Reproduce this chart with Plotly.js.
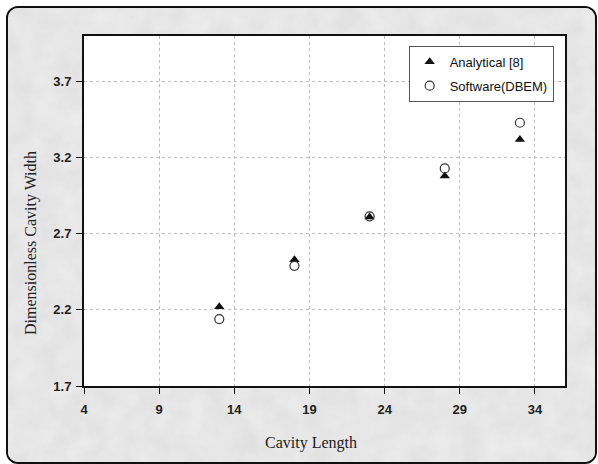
<!DOCTYPE html>
<html>
<head>
<meta charset="utf-8">
<script src="https://cdn.plot.ly/plotly-3.0.1.min.js"></script>
<style>
  html, body { margin: 0; padding: 0; background: #ffffff; }
  #wrap { position: relative; width: 598px; height: 464px; overflow: hidden; }
  #frame {
    position: absolute; left: 6px; top: 6px; width: 587px; height: 454px;
    border: 2px solid #111; border-radius: 12px;
    background-color: #e4e4e4; overflow: hidden;
  }
  #frame svg { position: absolute; left: 0; top: 0; }
  #chart { position: absolute; left: 0; top: 0; width: 598px; height: 464px; }
</style>
</head>
<body>
<div id="wrap">
  <div id="frame">
    <svg width="587" height="454">
      <filter id="marble">
        <feTurbulence type="fractalNoise" baseFrequency="0.04" numOctaves="4" seed="7"/>
        <feColorMatrix type="matrix" values="0 0 0 0 0.95  0 0 0 0 0.95  0 0 0 0 0.95  0 0 0 -0.6 0.55"/>
      </filter>
      <rect width="587" height="454" fill="#e0e0e0"/>
      <rect width="587" height="454" filter="url(#marble)"/>
    </svg>
  </div>
  <div id="chart"></div>
</div>
<script>
// Cavity length vs. dimensionless cavity width
const cavityLength = [13, 18, 23, 28, 33];
const analyticalWidth = [2.22, 2.53, 2.81, 3.08, 3.32];
const dbemWidth = [2.14, 2.49, 2.815, 3.13, 3.43];
const xTicks = [4, 9, 14, 19, 24, 29, 34];
const yTicks = [1.7, 2.2, 2.7, 3.2, 3.7];
const xTitle = 'Cavity Length';
const yTitle = 'Dimensionless Cavity Width';

const traces = [
  {
    x: cavityLength, y: analyticalWidth, type: 'scatter', mode: 'markers',
    name: 'Analytical [8]', legendgroup: 'a',
    marker: { symbol: 'triangle-up', size: 9, color: '#111' }
  },
  {
    x: cavityLength, y: dbemWidth, type: 'scatter', mode: 'markers',
    name: 'Software(DBEM)', legendgroup: 'b',
    marker: { symbol: 'circle-open', size: 9, color: '#333', line: { width: 1.2, color: '#333' } }
  }
];

const tickFont = { family: 'Liberation Sans, Arial, sans-serif', size: 13, color: '#222', weight: 'bold' };
const titleFont = { family: 'Liberation Serif, Times New Roman, serif', size: 16, color: '#222' };

const axisCommon = {
  showline: true, linecolor: '#111', linewidth: 2, mirror: true,
  ticks: 'outside', ticklen: 6, tickcolor: '#111', tickwidth: 1,
  showgrid: true, gridcolor: '#bdbdbd', griddash: 'dot', gridwidth: 1,
  zeroline: false, tickfont: tickFont
};

const layout = {
  width: 598, height: 464,
  paper_bgcolor: 'rgba(0,0,0,0)', plot_bgcolor: '#ffffff',
  margin: { l: 84, r: 33, t: 36, b: 78 },
  showlegend: true,
  legend: {
    x: 0.675, y: 0.972, xanchor: 'left', yanchor: 'top',
    bgcolor: '#ffffff', bordercolor: '#555', borderwidth: 1,
    font: { family: 'Liberation Sans, Arial, sans-serif', size: 13, color: '#111' },
    traceorder: 'grouped', tracegroupgap: 4, itemwidth: 30
  },
  xaxis: Object.assign({}, axisCommon, {
    range: [4, 36], tickvals: xTicks, ticktext: xTicks.map(String),
    ticklabelstandoff: 4
  }),
  yaxis: Object.assign({}, axisCommon, {
    range: [1.7, 4.0], tickvals: yTicks, ticktext: yTicks.map(v => v.toFixed(1)),
    ticklabelstandoff: 2
  }),
  annotations: [
    { text: xTitle, xref: 'paper', yref: 'paper', x: 0.472, y: -0.163,
      xanchor: 'center', yanchor: 'middle', showarrow: false, font: titleFont },
    { text: yTitle, xref: 'paper', yref: 'paper', x: -0.110, y: 0.409, textangle: -90,
      xanchor: 'center', yanchor: 'middle', showarrow: false, font: titleFont }
  ]
};

Plotly.newPlot('chart', traces, layout, { displayModeBar: false, staticPlot: true });
</script>
</body>
</html>
